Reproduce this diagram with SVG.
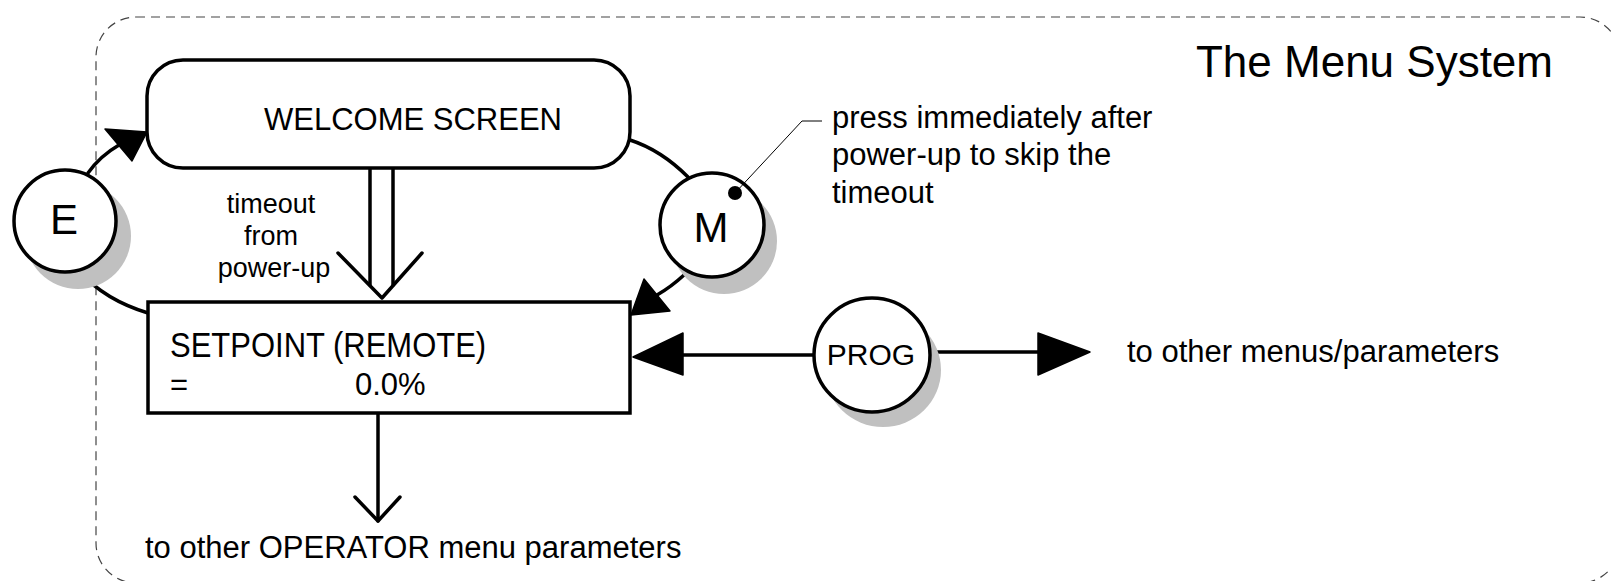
<svg xmlns="http://www.w3.org/2000/svg" width="1611" height="581" viewBox="0 0 1611 581">
<style>
text { font-family: "Liberation Sans", Arial, sans-serif; fill: #000; }
.ln { fill: none; stroke: #000; stroke-width: 3.5; stroke-linecap: round; stroke-linejoin: round; }
.box { fill: #fff; stroke: #000; stroke-width: 3.5; }
.shadow { fill: #c0c0c0; }
.head { fill: #000; stroke: #000; stroke-width: 1.5; stroke-linejoin: round; }
.t31 { font-size: 31px; }
</style>
<rect id="frame" x="96" y="17" width="1524" height="566" rx="40" ry="40" fill="none" stroke="#444" stroke-width="1.2" stroke-dasharray="9 6"/>
<text id="title" x="1553" y="77" font-size="44" text-anchor="end">The Menu System</text>

<g id="connectors">
  <!-- E to WELCOME -->
  <path class="ln" d="M88,173 Q100,156 119,145"/>
  <polygon class="head" points="105,129 147,132 132,161"/>
  <!-- E bottom to SETPOINT -->
  <path class="ln" d="M80,272 Q105,300 148,313"/>
  <!-- WELCOME to M -->
  <path class="ln" d="M630,140 Q661,150 688,177"/>
  <!-- M to SETPOINT -->
  <path class="ln" d="M684,275 Q671,287 657,295"/>
  <polygon class="head" points="644,279 670,311 631,315"/>
  <!-- timeout double arrow -->
  <line class="ln" x1="370" y1="168" x2="370" y2="285"/>
  <line class="ln" x1="393" y1="168" x2="393" y2="285"/>
  <polyline class="ln" points="338,253 382,298 422,253"/>
  <!-- SETPOINT down -->
  <line class="ln" x1="378" y1="413" x2="378" y2="521"/>
  <polyline class="ln" points="355,497 378,521 400,497"/>
  <!-- PROG to SETPOINT -->
  <line class="ln" x1="813" y1="355" x2="682" y2="355"/>
  <polygon class="head" points="683,333 683,375 633,357"/>
  <!-- PROG to other menus -->
  <line class="ln" x1="932" y1="352" x2="1040" y2="352"/>
  <polygon class="head" points="1038,333 1038,375 1090,352"/>
</g>

<g id="welcome">
  <rect class="box" x="147" y="60" width="483" height="108" rx="36" ry="36"/>
  <text class="t31" x="264" y="130">WELCOME SCREEN</text>
</g>

<g id="setpoint">
  <rect class="box" x="148" y="302" width="482" height="111"/>
  <text class="t31" transform="translate(170,357) scale(1,1.15)" x="0" y="0">SETPOINT (REMOTE)</text>
  <text class="t31" y="395"><tspan x="170">=</tspan><tspan x="355">0.0%</tspan></text>
</g>

<g id="btn-e">
  <circle class="shadow" cx="78" cy="236" r="53"/>
  <circle class="box" cx="65" cy="221" r="51"/>
  <text x="64" y="234" font-size="42" text-anchor="middle">E</text>
</g>

<g id="btn-m">
  <circle class="shadow" cx="724" cy="241" r="53"/>
  <circle class="box" cx="712" cy="225" r="52"/>
  <text x="711" y="242" font-size="42" text-anchor="middle">M</text>
</g>

<g id="btn-prog">
  <ellipse class="shadow" cx="883" cy="370" rx="58" ry="57"/>
  <ellipse class="box" cx="872" cy="355" rx="58" ry="57"/>
  <text x="871" y="365" font-size="30" text-anchor="middle">PROG</text>
</g>

<g id="label-timeout">
  <text font-size="27" text-anchor="middle"><tspan x="271" y="213">timeout</tspan><tspan x="271" y="245">from</tspan><tspan x="274" y="277">power-up</tspan></text>
</g>

<g id="note">
  <polyline points="735,193 802,121 822,121" fill="none" stroke="#000" stroke-width="1"/>
  <circle cx="735" cy="193" r="7" fill="#000"/>
  <text class="t31"><tspan x="832" y="128">press immediately after</tspan><tspan x="832" y="165">power-up to skip the</tspan><tspan x="832" y="203">timeout</tspan></text>
</g>

<text id="label-menus" class="t31" x="1127" y="362">to other menus/parameters</text>
<text id="label-operator" class="t31" x="145" y="558">to other OPERATOR menu parameters</text>
</svg>
